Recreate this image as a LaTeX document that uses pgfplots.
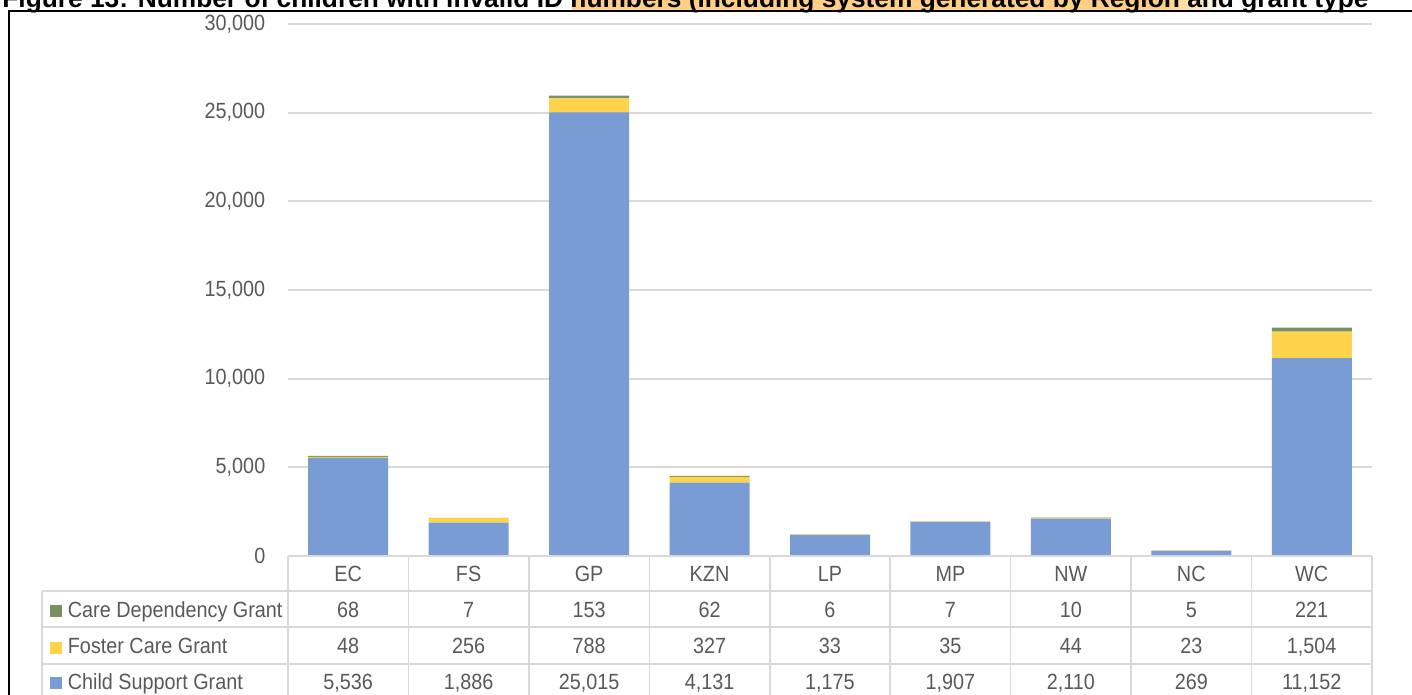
\documentclass[border=0pt]{standalone}
\usepackage{pgfplots}
\pgfplotsset{compat=1.18}
\usepackage{fontspec}
\setmainfont{Liberation Sans}
\newfontfamily\narrowfont[FakeStretch=0.9]{Liberation Sans}
\usepackage{graphicx}
\definecolor{csg}{RGB}{122,156,212}
\definecolor{fcg}{RGB}{255,210,76}
\definecolor{cdg}{RGB}{122,145,98}
\definecolor{tgray}{RGB}{89,89,89}
\definecolor{lgray}{RGB}{217,217,217}
\definecolor{hl}{RGB}{255,206,135}
\begin{document}
\narrowfont\fontsize{11}{13}\selectfont
\begin{tikzpicture}[x=0.5pt,y=-0.5pt]
\clip (0,0) rectangle (1412,695);
% title highlight
\fill[hl] (572,-10) rectangle (1165,11);
\shade[left color=hl, right color=white] (1164,-10) rectangle (1228,11);
\node[anchor=base west, inner sep=0pt] at (2,7.5) {\resizebox{683pt}{!}{\normalfont\bfseries Figure 13: Number of children with invalid ID numbers (including system generated by Region and grant type}};
% frame
\draw[line width=1pt] (8.5,710) -- (8.5,11.5) -- (1430,11.5);
\begin{axis}[
  at={(144pt,-278pt)}, anchor=south west,
  scale only axis, width=542pt, height=266pt,
  xmin=-0.5, xmax=8.5, ymin=0, ymax=30000,
  ybar stacked, bar width=40pt,
  axis line style={draw=none},
  xtick=\empty,
  ytick={0,5000,...,30000},
  major tick length=0pt,
  ymajorgrids, grid style={lgray, line width=0.9pt},
  scaled y ticks=false,
  yticklabel style={text=tgray, xshift=-7.5pt, /pgf/number format/.cd, fixed, 1000 sep={,}, assume math mode=true},
  clip=false,
]
\addplot[fill=csg, draw=none] coordinates {(0,5536) (1,1886) (2,25015) (3,4131) (4,1175) (5,1907) (6,2110) (7,269) (8,11152)};
\addplot[fill=fcg, draw=none] coordinates {(0,48) (1,256) (2,788) (3,327) (4,33) (5,35) (6,44) (7,23) (8,1504)};
\addplot[fill=cdg, draw=none] coordinates {(0,68) (1,7) (2,153) (3,62) (4,6) (5,7) (6,10) (7,5) (8,221)};
\end{axis}
% data table
\begin{scope}[lgray, line width=0.75pt]
\draw (288,556) -- (1372,556);
\foreach \y in {591,627,664,700} \draw (42,\y) -- (1372,\y);
\draw (42,591) -- (42,710);
\foreach \k in {0,...,9} \draw ({288+120.44*\k},556) -- ({288+120.44*\k},710);
\end{scope}
\foreach \lab [count=\i from 0] in {EC,FS,GP,KZN,LP,MP,NW,NC,WC}
  \node[text=tgray, anchor=base, inner sep=0pt] at ({348.2+120.44*\i},581) {\lab};
\foreach \v [count=\i from 0] in {68,7,153,62,6,7,10,5,221}
  \node[text=tgray, anchor=base, inner sep=0pt] at ({348.2+120.44*\i},617) {\v};
\foreach \v [count=\i from 0] in {48,256,788,327,33,35,44,23,{1,504}}
  \node[text=tgray, anchor=base, inner sep=0pt] at ({348.2+120.44*\i},653) {\v};
\foreach \v [count=\i from 0] in {{5,536},{1,886},{25,015},{4,131},{1,175},{1,907},{2,110},269,{11,152}}
  \node[text=tgray, anchor=base, inner sep=0pt] at ({348.2+120.44*\i},689) {\v};
% legend keys
\fill[cdg] (49.5,605) rectangle (61.5,617);
\fill[fcg] (49.5,641.5) rectangle (61.5,653.5);
\fill[csg] (49.5,677) rectangle (61.5,689);
\node[text=tgray, anchor=base west, inner sep=0pt] at (67.5,617) {Care Dependency Grant};
\node[text=tgray, anchor=base west, inner sep=0pt] at (67.5,653) {Foster Care Grant};
\node[text=tgray, anchor=base west, inner sep=0pt] at (67.5,689) {Child Support Grant};
\end{tikzpicture}
\end{document}
